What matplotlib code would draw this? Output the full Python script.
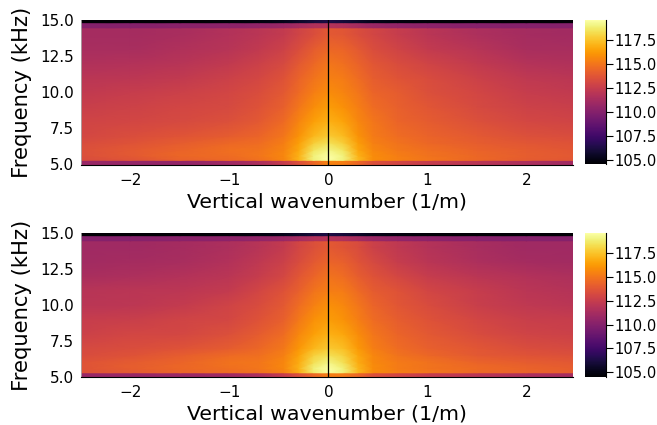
import numpy as np
import matplotlib
matplotlib.use("Agg")
import matplotlib.pyplot as plt

wavenumber = [-2.5, -2.0, -1.5, -1.0, -0.7, -0.45, -0.3, -0.15, 0.0,
              0.15, 0.3, 0.45, 0.7, 1.0, 1.5, 2.0, 2.5]
frequency = [5.0, 5.28, 5.3, 5.6, 6.0, 6.5, 7.0, 8.0, 9.0, 10.0, 11.0,
             12.0, 13.0, 14.0, 14.45, 14.47, 14.8, 14.82, 15.0]

power_top = [
    [110.8, 110.6, 110.5, 111.0, 111.5, 112.5, 113.5, 114.5, 115.5, 115.3, 114.5, 113.5, 113.0, 112.5, 112.0, 111.5, 111.0],
    [110.8, 110.6, 110.5, 111.0, 111.5, 112.5, 113.5, 114.5, 115.5, 115.3, 114.5, 113.5, 113.0, 112.5, 112.0, 111.5, 111.0],
    [113.3, 113.6, 114.2, 114.5, 114.8, 115.5, 117.0, 118.9, 119.6, 119.0, 117.2, 115.8, 115.4, 115.0, 114.5, 114.0, 113.8],
    [113.5, 113.9, 114.5, 114.7, 115.0, 115.6, 117.0, 119.0, 119.6, 119.0, 117.0, 115.8, 115.3, 114.9, 114.5, 114.1, 113.9],
    [113.5, 113.9, 114.3, 114.8, 114.9, 115.5, 116.7, 118.5, 119.1, 118.5, 116.6, 115.6, 115.1, 114.8, 114.3, 114.0, 113.8],
    [113.3, 113.6, 114.0, 114.5, 114.7, 115.3, 116.4, 117.8, 118.4, 117.8, 116.3, 115.4, 114.9, 114.5, 114.1, 113.8, 113.6],
    [113.1, 113.4, 113.7, 114.0, 114.4, 115.0, 116.0, 117.1, 117.7, 117.2, 116.0, 115.2, 114.7, 114.3, 113.9, 113.5, 113.3],
    [112.9, 113.0, 113.2, 113.5, 113.9, 114.6, 115.5, 116.4, 116.9, 116.5, 115.6, 115.0, 114.4, 114.0, 113.5, 113.1, 112.9],
    [112.6, 112.8, 113.0, 113.2, 113.6, 114.2, 115.0, 115.8, 116.3, 115.9, 115.3, 114.7, 114.2, 113.8, 113.2, 112.8, 112.6],
    [112.3, 112.5, 112.7, 113.0, 113.4, 113.9, 114.6, 115.3, 115.8, 115.5, 115.0, 114.4, 114.0, 113.5, 113.0, 112.5, 112.3],
    [112.0, 112.1, 112.3, 112.7, 113.1, 113.6, 114.3, 114.9, 115.4, 115.2, 114.7, 114.1, 113.7, 113.3, 112.7, 112.2, 112.0],
    [111.6, 111.7, 111.9, 112.3, 112.7, 113.2, 113.9, 114.5, 115.0, 114.8, 114.3, 113.8, 113.3, 112.9, 112.3, 111.8, 111.6],
    [111.3, 111.3, 111.6, 111.9, 112.3, 112.8, 113.4, 114.0, 114.5, 114.4, 113.9, 113.4, 112.9, 112.4, 111.9, 111.4, 111.3],
    [111.2, 111.2, 111.4, 111.7, 112.0, 112.4, 112.9, 113.4, 113.9, 113.8, 113.4, 113.0, 112.5, 112.0, 111.5, 111.2, 111.1],
    [111.2, 111.2, 111.4, 111.7, 112.0, 112.4, 112.9, 113.4, 113.9, 113.8, 113.4, 113.0, 112.5, 112.0, 111.5, 111.2, 111.1],
    [110.0, 110.0, 110.2, 110.3, 110.5, 110.8, 111.2, 111.6, 111.8, 111.6, 111.2, 110.8, 110.5, 110.3, 110.1, 110.0, 110.0],
    [110.0, 110.0, 110.2, 110.3, 110.5, 110.8, 111.2, 111.6, 111.8, 111.6, 111.2, 110.8, 110.5, 110.3, 110.1, 110.0, 110.0],
    [104.6, 104.6, 104.6, 104.7, 104.9, 105.2, 105.6, 106.0, 106.3, 106.0, 105.6, 105.2, 104.9, 104.7, 104.6, 104.6, 104.6],
    [104.6, 104.6, 104.6, 104.7, 104.9, 105.2, 105.6, 106.0, 106.3, 106.0, 105.6, 105.2, 104.9, 104.7, 104.6, 104.6, 104.6],
]

power_bottom = [
    [110.7, 110.7, 110.8, 111.0, 111.5, 112.5, 113.5, 114.5, 115.3, 115.2, 114.5, 113.5, 113.0, 112.5, 112.0, 111.5, 111.2],
    [110.7, 110.7, 110.8, 111.0, 111.5, 112.5, 113.5, 114.5, 115.3, 115.2, 114.5, 113.5, 113.0, 112.5, 112.0, 111.5, 111.2],
    [113.6, 113.9, 114.3, 114.6, 114.8, 115.4, 116.8, 118.7, 119.5, 118.9, 117.1, 115.7, 115.3, 115.0, 114.5, 114.3, 114.1],
    [113.7, 114.1, 114.5, 114.8, 115.0, 115.6, 117.0, 118.9, 119.6, 118.9, 117.1, 115.8, 115.2, 114.9, 114.6, 114.3, 114.1],
    [113.7, 114.0, 114.4, 114.9, 115.0, 115.6, 116.8, 118.4, 119.1, 118.4, 116.8, 115.7, 115.2, 114.9, 114.4, 114.1, 113.9],
    [113.3, 113.6, 114.1, 114.6, 114.8, 115.4, 116.5, 117.9, 118.4, 117.9, 116.6, 115.6, 114.9, 114.5, 113.9, 113.7, 113.5],
    [113.2, 113.4, 113.6, 114.0, 114.5, 115.1, 116.1, 117.1, 117.7, 117.3, 116.2, 115.3, 114.7, 114.2, 113.8, 113.4, 113.2],
    [112.7, 113.0, 113.1, 113.5, 114.0, 114.7, 115.6, 116.4, 116.9, 116.6, 115.8, 115.0, 114.4, 113.9, 113.3, 112.9, 112.7],
    [112.5, 112.6, 112.9, 113.1, 113.6, 114.2, 115.1, 115.9, 116.3, 116.0, 115.3, 114.7, 114.1, 113.6, 113.0, 112.6, 112.5],
    [112.0, 112.1, 112.4, 112.9, 113.3, 113.9, 114.7, 115.4, 115.9, 115.6, 115.0, 114.4, 113.8, 113.3, 112.6, 112.2, 112.0],
    [111.9, 112.0, 112.1, 112.4, 113.0, 113.6, 114.2, 114.9, 115.3, 115.2, 114.6, 114.0, 113.6, 113.0, 112.5, 112.0, 111.8],
    [111.4, 111.5, 111.7, 112.0, 112.5, 113.1, 113.8, 114.4, 114.9, 114.7, 114.1, 113.6, 113.1, 112.5, 112.0, 111.7, 111.5],
    [111.1, 111.2, 111.3, 111.7, 112.2, 112.7, 113.3, 113.9, 114.4, 114.2, 113.7, 113.2, 112.5, 112.0, 111.5, 111.2, 111.1],
    [111.0, 111.0, 111.2, 111.5, 111.9, 112.4, 113.0, 113.5, 113.9, 113.7, 113.3, 112.7, 112.2, 111.8, 111.3, 111.0, 111.0],
    [111.0, 111.0, 111.2, 111.5, 111.9, 112.4, 113.0, 113.5, 113.9, 113.7, 113.3, 112.7, 112.2, 111.8, 111.3, 111.0, 111.0],
    [110.0, 110.0, 110.2, 110.3, 110.5, 110.8, 111.2, 111.6, 111.8, 111.6, 111.2, 110.8, 110.5, 110.3, 110.1, 110.0, 110.0],
    [110.0, 110.0, 110.2, 110.3, 110.5, 110.8, 111.2, 111.6, 111.8, 111.6, 111.2, 110.8, 110.5, 110.3, 110.1, 110.0, 110.0],
    [104.6, 104.6, 104.6, 104.7, 104.9, 105.2, 105.6, 106.0, 106.3, 106.0, 105.6, 105.2, 104.9, 104.7, 104.6, 104.6, 104.6],
    [104.6, 104.6, 104.6, 104.7, 104.9, 105.2, 105.6, 106.0, 106.3, 106.0, 105.6, 105.2, 104.9, 104.7, 104.6, 104.6, 104.6],
]

freq_ticks = [5.0, 7.5, 10.0, 12.5, 15.0]
k_ticks = [-2, -1, 0, 1, 2]
cbar_ticks = [105.0, 107.5, 110.0, 112.5, 115.0, 117.5]
W, H = 657.0, 425.0


def draw_panel(fig, power, top, bottom):
    ax = fig.add_axes([81 / W, 1 - bottom / H, 492 / W, (bottom - top) / H])
    mesh = ax.pcolormesh(wavenumber, frequency, np.array(power), cmap="inferno",
                         vmin=104.5, vmax=119.6, shading="gouraud")
    ax.axvline(0, color="black", lw=0.9)
    ax.set_xlim(-2.5, 2.47)
    ax.set_ylim(5, 15)
    ax.set_xticks(k_ticks)
    ax.set_yticks(freq_ticks)
    ax.set_yticklabels(["%.1f" % f for f in freq_ticks])
    ax.tick_params(length=0, labelsize=11, pad=6)
    ax.tick_params(axis="y", pad=5)
    ax.set_xlabel("Vertical wavenumber (1/m)", fontsize=14.75, labelpad=3)
    ax.set_ylabel("Frequency (kHz)", fontsize=15.2, labelpad=6)
    for side in ["top", "right"]:
        ax.spines[side].set_visible(False)
    ax.spines["left"].set_color("#aaaaaa")
    ax.spines["left"].set_linewidth(0.6)
    ax.spines["bottom"].set_linewidth(0.8)

    cax = fig.add_axes([585 / W, 1 - bottom / H, 21 / W, (bottom - top) / H])
    cbar = fig.colorbar(mesh, cax=cax)
    cbar.set_ticks(cbar_ticks)
    cbar.set_ticklabels(["%.1f" % c for c in cbar_ticks])
    cbar.ax.tick_params(length=5, width=0.8, labelsize=10.6, pad=1.2)
    cbar.outline.set_visible(False)
    cbar.ax.spines["right"].set_visible(True)
    cbar.ax.spines["right"].set_color("black")


fig = plt.figure(figsize=(W / 100, H / 100), dpi=100)
draw_panel(fig, power_top, 20, 164.5)
draw_panel(fig, power_bottom, 233, 377)
fig.savefig("out.png", dpi=100)
plt.close(fig)
